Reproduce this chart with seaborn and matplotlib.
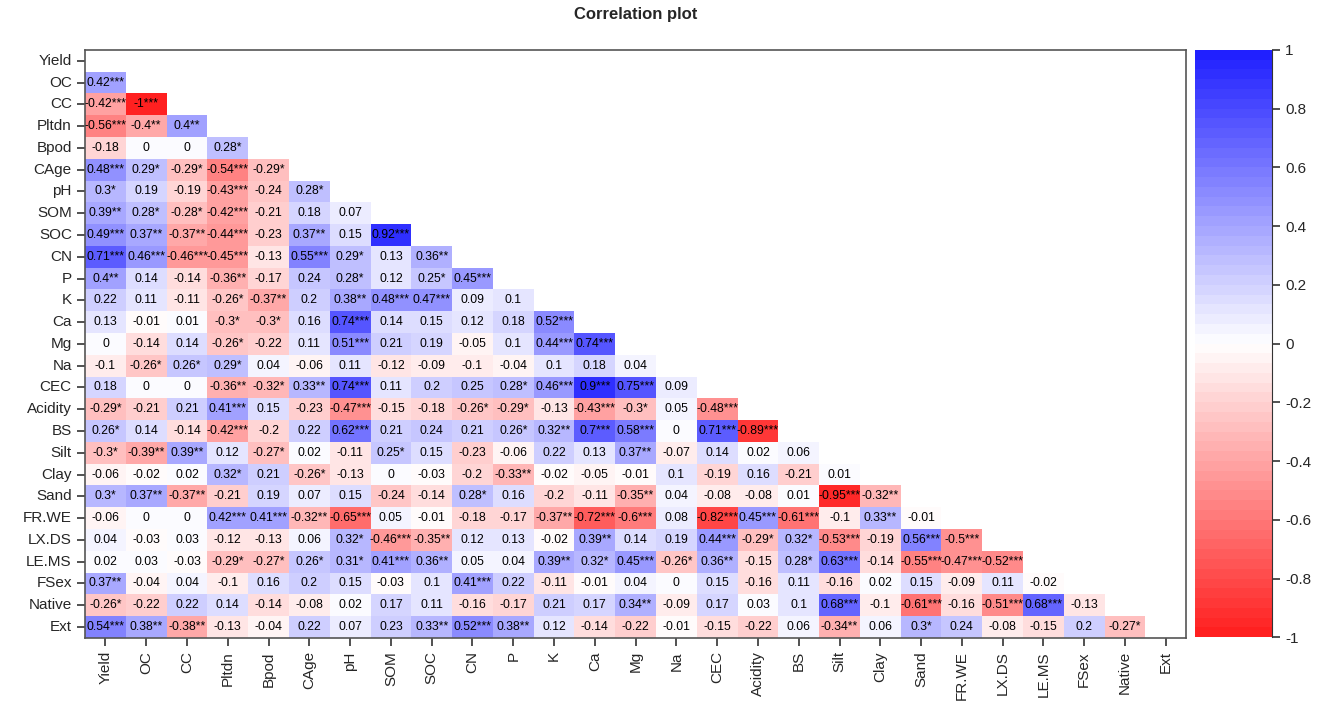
import numpy as np
import seaborn as sns
import matplotlib.pyplot as plt
from matplotlib.colors import LinearSegmentedColormap

sns.set_style('white')
plt.rcParams['font.family'] = ['Liberation Sans', 'DejaVu Sans']

variables = ['Yield', 'OC', 'CC', 'Pltdn', 'Bpod', 'CAge', 'pH', 'SOM', 'SOC', 'CN',
             'P', 'K', 'Ca', 'Mg', 'Na', 'CEC', 'Acidity', 'BS', 'Silt', 'Clay',
             'Sand', 'FR.WE', 'LX.DS', 'LE.MS', 'FSex', 'Native', 'Ext']

# lower triangle, one string per row (row i has i labels)
lower = [
    '',
    '0.42***',
    '-0.42*** -1***',
    '-0.56*** -0.4** 0.4**',
    '-0.18 0 0 0.28*',
    '0.48*** 0.29* -0.29* -0.54*** -0.29*',
    '0.3* 0.19 -0.19 -0.43*** -0.24 0.28*',
    '0.39** 0.28* -0.28* -0.42*** -0.21 0.18 0.07',
    '0.49*** 0.37** -0.37** -0.44*** -0.23 0.37** 0.15 0.92***',
    '0.71*** 0.46*** -0.46*** -0.45*** -0.13 0.55*** 0.29* 0.13 0.36**',
    '0.4** 0.14 -0.14 -0.36** -0.17 0.24 0.28* 0.12 0.25* 0.45***',
    '0.22 0.11 -0.11 -0.26* -0.37** 0.2 0.38** 0.48*** 0.47*** 0.09 0.1',
    '0.13 -0.01 0.01 -0.3* -0.3* 0.16 0.74*** 0.14 0.15 0.12 0.18 0.52***',
    '0 -0.14 0.14 -0.26* -0.22 0.11 0.51*** 0.21 0.19 -0.05 0.1 0.44*** 0.74***',
    '-0.1 -0.26* 0.26* 0.29* 0.04 -0.06 0.11 -0.12 -0.09 -0.1 -0.04 0.1 0.18 0.04',
    '0.18 0 0 -0.36** -0.32* 0.33** 0.74*** 0.11 0.2 0.25 0.28* 0.46*** 0.9*** 0.75*** 0.09',
    '-0.29* -0.21 0.21 0.41*** 0.15 -0.23 -0.47*** -0.15 -0.18 -0.26* -0.29* -0.13 -0.43*** -0.3* 0.05 -0.48***',
    '0.26* 0.14 -0.14 -0.42*** -0.2 0.22 0.62*** 0.21 0.24 0.21 0.26* 0.32** 0.7*** 0.58*** 0 0.71*** -0.89***',
    '-0.3* -0.39** 0.39** 0.12 -0.27* 0.02 -0.11 0.25* 0.15 -0.23 -0.06 0.22 0.13 0.37** -0.07 0.14 0.02 0.06',
    '-0.06 -0.02 0.02 0.32* 0.21 -0.26* -0.13 0 -0.03 -0.2 -0.33** -0.02 -0.05 -0.01 0.1 -0.19 0.16 -0.21 0.01',
    '0.3* 0.37** -0.37** -0.21 0.19 0.07 0.15 -0.24 -0.14 0.28* 0.16 -0.2 -0.11 -0.35** 0.04 -0.08 -0.08 0.01 -0.95*** -0.32**',
    '-0.06 0 0 0.42*** 0.41*** -0.32** -0.65*** 0.05 -0.01 -0.18 -0.17 -0.37** -0.72*** -0.6*** 0.08 -0.82*** 0.45*** -0.61*** -0.1 0.33** -0.01',
    '0.04 -0.03 0.03 -0.12 -0.13 0.06 0.32* -0.46*** -0.35** 0.12 0.13 -0.02 0.39** 0.14 0.19 0.44*** -0.29* 0.32* -0.53*** -0.19 0.56*** -0.5***',
    '0.02 0.03 -0.03 -0.29* -0.27* 0.26* 0.31* 0.41*** 0.36** 0.05 0.04 0.39** 0.32* 0.45*** -0.26* 0.36** -0.15 0.28* 0.63*** -0.14 -0.55*** -0.47*** -0.52***',
    '0.37** -0.04 0.04 -0.1 0.16 0.2 0.15 -0.03 0.1 0.41*** 0.22 -0.11 -0.01 0.04 0 0.15 -0.16 0.11 -0.16 0.02 0.15 -0.09 0.11 -0.02',
    '-0.26* -0.22 0.22 0.14 -0.14 -0.08 0.02 0.17 0.11 -0.16 -0.17 0.21 0.17 0.34** -0.09 0.17 0.03 0.1 0.68*** -0.1 -0.61*** -0.16 -0.51*** 0.68*** -0.13',
    '0.54*** 0.38** -0.38** -0.13 -0.04 0.22 0.07 0.23 0.33** 0.52*** 0.38** 0.12 -0.14 -0.22 -0.01 -0.15 -0.22 0.06 -0.34** 0.06 0.3* 0.24 -0.08 -0.15 0.2 -0.27*',
]

n = len(variables)
corr = np.zeros((n, n))
labels = np.full((n, n), '', dtype=object)
for i, row in enumerate(lower):
    for j, lab in enumerate(row.split()):
        corr[i, j] = float(lab.rstrip('*'))
        labels[i, j] = lab
mask = np.triu(np.ones((n, n), dtype=bool))

cmap = LinearSegmentedColormap.from_list('rwb', ['#ff2020', 'white', '#2020ff'], N=60)

fig = plt.figure(figsize=(13.25, 7.12), dpi=100)
ax = fig.add_axes([0.0642, 0.104, 0.831, 0.826])
cax = fig.add_axes([0.902, 0.105, 0.058, 0.825])

sns.heatmap(corr, mask=mask, cmap=cmap, vmin=-1, vmax=1, annot=labels, fmt='',
            annot_kws={'fontsize': 8.8, 'color': 'black'},
            xticklabels=variables, yticklabels=variables,
            ax=ax, cbar_ax=cax, square=False)

for s in ax.spines.values():
    s.set_visible(True)
    s.set_color('#555555')
    s.set_linewidth(1.2)
ax.tick_params(axis='both', length=6, width=1.2, color='#333333', labelsize=11,
               bottom=True, left=True)
ax.set_xticklabels(variables, rotation=90)
ax.set_yticklabels(variables, rotation=0)
ax.set_title('Correlation plot', fontsize=12, fontweight='bold', pad=22)

cb = ax.collections[0].colorbar
cb.set_ticks(np.round(np.arange(-1, 1.01, 0.2), 1))
cb.set_ticklabels(['-1', '-0.8', '-0.6', '-0.4', '-0.2', '0', '0.2', '0.4', '0.6', '0.8', '1'])
cb.outline.set_visible(False)
cax.tick_params(length=6, width=1.2, color='#333333', labelsize=11, right=True)
cax.spines['right'].set_visible(True)
cax.spines['right'].set_color('#333333')

fig.savefig('out.png', dpi=100)
